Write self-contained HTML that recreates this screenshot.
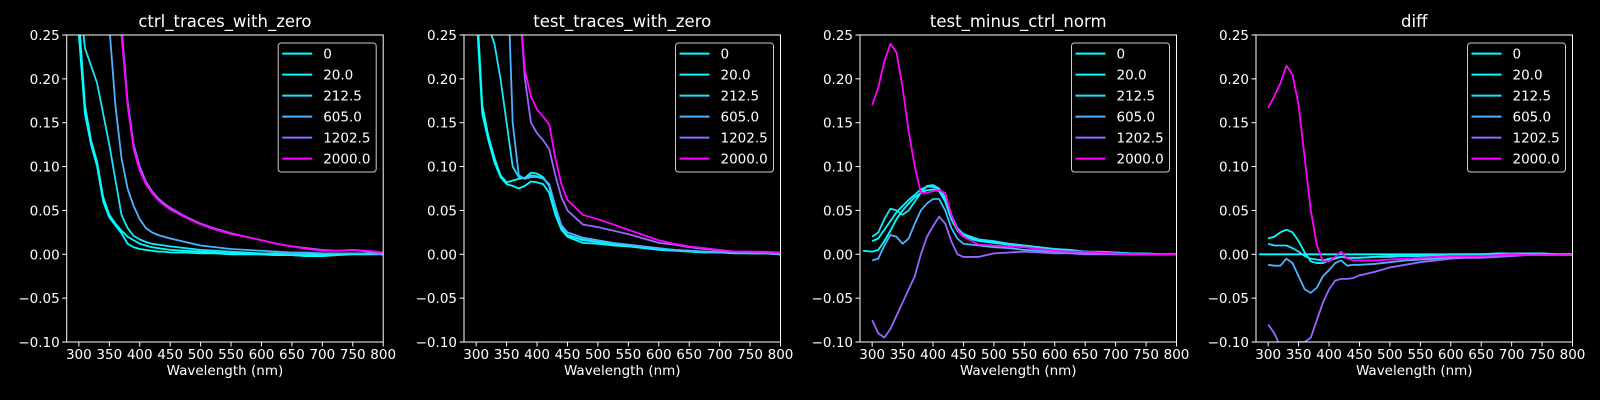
<!DOCTYPE html>
<html><head><meta charset="utf-8"><style>
html,body{margin:0;padding:0;background:#000;}
svg{display:block;font-family:"DejaVu Sans","Liberation Sans",sans-serif;}
</style></head><body>
<svg id="fig" width="1600" height="400" viewBox="0 0 1600 400" xmlns="http://www.w3.org/2000/svg">
<rect width="1600" height="400" fill="#000"/>
</svg>
<script>
const wavelengths=[285,300,310,320,330,340,350,360,370,380,390,400,410,420,430,440,450,475,500,525,550,575,600,625,650,675,700,725,750,775,800];
const seriesLabels=["0","20.0","212.5","605.0","1202.5","2000.0"];
const seriesColors=["#00ffff","#02fdff","#1be4ff","#4db2ff","#9966ff","#ff00ff"];
const panelTitles=["ctrl_traces_with_zero","test_traces_with_zero","test_minus_ctrl_norm","diff"];
const yTicks=[-0.10,-0.05,0.00,0.05,0.10,0.15,0.20,0.25];
const xTicks=[300,350,400,450,500,550,600,650,700,750,800];

const ctrl0=[null,0.25,0.16,0.125,0.1,0.06,0.042,0.033,0.024,0.012,0.008,0.006,0.005,0.004,0.003,0.003,0.002,0.002,0.001,0.001,0.0,0.0,0.0,-0.001,-0.001,-0.002,-0.002,-0.001,0.0,0.0,0.0];
const ctrl1=[null,0.27,0.17,0.13,0.105,0.065,0.045,0.035,0.027,0.02,0.016,0.012,0.01,0.008,0.007,0.006,0.005,0.004,0.003,0.002,0.001,0.001,0.0,-0.001,-0.001,-0.002,-0.001,0.0,0.001,0.001,0.0];
const ctrl2=[null,0.3,0.235,0.215,0.195,0.16,0.125,0.085,0.045,0.03,0.021,0.017,0.014,0.012,0.011,0.01,0.009,0.007,0.005,0.004,0.003,0.002,0.001,0.001,0.0,0.0,0.0,0.0,0.001,0.001,0.0];
const ctrl3=[null,0.5,0.5,0.5,0.5,0.4,0.26,0.17,0.11,0.075,0.055,0.04,0.03,0.025,0.022,0.02,0.018,0.014,0.01,0.008,0.006,0.005,0.004,0.003,0.002,0.002,0.001,0.001,0.001,0.001,0.0];
const ctrl4=[null,0.5,0.5,0.5,0.5,0.5,0.5,0.45,0.26,0.175,0.125,0.1,0.083,0.072,0.064,0.058,0.053,0.043,0.035,0.029,0.024,0.02,0.016,0.012,0.009,0.007,0.005,0.004,0.005,0.003,0.001];
const ctrl5=[null,0.5,0.5,0.5,0.5,0.5,0.5,0.45,0.25,0.17,0.12,0.095,0.08,0.07,0.062,0.056,0.051,0.042,0.034,0.028,0.023,0.02,0.016,0.012,0.009,0.006,0.004,0.004,0.005,0.004,0.002];

const test0=[null,0.28,0.16,0.13,0.105,0.088,0.08,0.078,0.075,0.078,0.083,0.082,0.08,0.07,0.045,0.028,0.02,0.013,0.012,0.01,0.009,0.007,0.005,0.004,0.003,0.002,0.002,0.001,0.001,0.001,0.0];
const test1=[null,0.3,0.17,0.135,0.11,0.09,0.082,0.084,0.086,0.087,0.093,0.092,0.088,0.078,0.05,0.03,0.022,0.016,0.014,0.012,0.01,0.008,0.006,0.005,0.004,0.003,0.002,0.002,0.001,0.001,0.0];
const test2=[null,0.4,0.4,0.26,0.24,0.2,0.15,0.1,0.088,0.087,0.09,0.089,0.087,0.078,0.05,0.03,0.022,0.017,0.014,0.012,0.01,0.008,0.006,0.005,0.004,0.003,0.002,0.002,0.001,0.001,0.0];
const test3=[null,0.5,0.5,0.5,0.5,0.5,0.35,0.15,0.09,0.086,0.088,0.088,0.086,0.08,0.055,0.033,0.025,0.019,0.016,0.013,0.011,0.009,0.007,0.005,0.004,0.003,0.002,0.002,0.001,0.001,0.0];
const test4=[null,0.5,0.5,0.5,0.5,0.5,0.5,0.42,0.3,0.2,0.15,0.138,0.13,0.12,0.09,0.065,0.05,0.034,0.031,0.027,0.023,0.018,0.013,0.011,0.008,0.006,0.004,0.003,0.003,0.002,0.001];
const test5=[null,0.5,0.5,0.5,0.5,0.5,0.5,0.5,0.3,0.21,0.18,0.165,0.157,0.148,0.11,0.08,0.062,0.045,0.04,0.034,0.028,0.022,0.016,0.012,0.009,0.007,0.005,0.003,0.003,0.003,0.002];

const norm0=[0.004,0.003,0.005,0.015,0.027,0.04,0.05,0.058,0.065,0.07,0.073,0.074,0.072,0.06,0.04,0.027,0.02,0.015,0.013,0.011,0.009,0.007,0.005,0.004,0.003,0.002,0.001,0.001,0.0,0.0,0.0];
const norm1=[null,0.015,0.018,0.028,0.038,0.048,0.055,0.062,0.068,0.074,0.077,0.077,0.074,0.063,0.042,0.028,0.022,0.016,0.014,0.012,0.01,0.008,0.006,0.005,0.003,0.002,0.002,0.001,0.001,0.0,0.0];
const norm2=[null,0.02,0.025,0.04,0.052,0.05,0.045,0.05,0.06,0.07,0.078,0.079,0.075,0.065,0.045,0.03,0.023,0.017,0.015,0.012,0.01,0.008,0.006,0.005,0.003,0.003,0.002,0.001,0.001,0.0,0.0];
const norm3=[null,-0.007,-0.005,0.01,0.022,0.02,0.012,0.018,0.035,0.05,0.058,0.063,0.063,0.05,0.03,0.018,0.012,0.01,0.008,0.007,0.005,0.004,0.003,0.002,0.002,0.001,0.001,0.0,0.0,0.0,0.0];
const norm4=[null,-0.075,-0.09,-0.095,-0.085,-0.07,-0.055,-0.04,-0.025,0.0,0.02,0.032,0.043,0.035,0.015,0.0,-0.003,-0.003,0.001,0.002,0.003,0.002,0.001,0.001,0.0,0.0,0.0,0.0,0.0,0.0,0.0];
const norm5=[null,0.17,0.19,0.22,0.24,0.23,0.19,0.14,0.1,0.07,0.07,0.072,0.073,0.07,0.045,0.028,0.02,0.011,0.01,0.009,0.008,0.006,0.004,0.003,0.003,0.002,0.001,0.0,0.0,0.0,0.0];

const diff0=[0,0,0,0,0,0,0,0,0,0,0,0,0,0,0,0,0,0,0,0,0,0,0,0,0,0,0,0,0,0,0];
const diff1=[null,0.018,0.02,0.025,0.028,0.025,0.015,0.002,-0.008,-0.01,-0.01,-0.007,-0.005,-0.003,-0.004,-0.004,-0.004,-0.003,-0.002,-0.002,-0.001,-0.001,0.0,0.0,0.0,0.001,0.001,0.001,0.001,0.0,0.0];
const diff2=[null,0.012,0.01,0.01,0.01,0.007,0.003,-0.002,-0.005,-0.006,-0.007,-0.005,-0.004,-0.003,-0.004,-0.004,-0.004,-0.003,-0.003,-0.002,-0.002,-0.001,-0.001,0.0,0.0,0.0,0.001,0.001,0.001,0.0,0.0];
const diff3=[null,-0.012,-0.013,-0.013,-0.005,-0.01,-0.025,-0.04,-0.044,-0.038,-0.025,-0.018,-0.01,-0.007,-0.013,-0.012,-0.012,-0.011,-0.009,-0.007,-0.006,-0.005,-0.004,-0.003,-0.002,-0.002,-0.001,-0.001,0.0,0.0,0.0];
const diff4=[null,-0.08,-0.09,-0.105,-0.11,-0.105,-0.1,-0.1,-0.095,-0.075,-0.055,-0.04,-0.03,-0.028,-0.028,-0.027,-0.024,-0.02,-0.015,-0.012,-0.009,-0.007,-0.005,-0.004,-0.004,-0.003,-0.002,-0.001,-0.001,-0.001,-0.001];
const diff5=[null,0.167,0.18,0.195,0.215,0.205,0.17,0.11,0.05,0.01,-0.008,-0.008,-0.003,0.003,-0.005,-0.007,-0.007,-0.007,-0.006,-0.005,-0.004,-0.003,-0.002,-0.002,-0.002,-0.001,0.0,-0.001,-0.001,-0.001,-0.001];

const panelSeries=[[ctrl0,ctrl1,ctrl2,ctrl3,ctrl4,ctrl5],[test0,test1,test2,test3,test4,test5],[norm0,norm1,norm2,norm3,norm4,norm5],[diff0,diff1,diff2,diff3,diff4,diff5]];

const NS="http://www.w3.org/2000/svg";
const svg=document.getElementById('fig');
function mk(tag,attrs,parent){const e=document.createElementNS(NS,tag);for(const k in attrs)e.setAttribute(k,attrs[k]);(parent||svg).appendChild(e);return e;}
const lefts=[66.7,464,860,1256];
const W=316.5,TOP=35,BOT=342;
const XMIN=280,XMAX=800,YMIN=-0.10,YMAX=0.25;

lefts.forEach((L,p)=>{
  const xs=v=>L+(v-XMIN)/(XMAX-XMIN)*W;
  const ys=v=>BOT-(v-YMIN)/(YMAX-YMIN)*(BOT-TOP);
  const g=mk('g',{});
  
  
  const cp=mk('clipPath',{id:'clip'+p},g);
  mk('rect',{x:L,y:TOP,width:W,height:BOT-TOP},cp);
  const t=mk('text',{x:L+W/2,y:27,'text-anchor':'middle',fill:'#fff','font-size':'16.5'},g);
  t.textContent=panelTitles[p];
  
  
  const lg=mk('g',{'clip-path':'url(#clip'+p+')'},g);
  panelSeries[p].forEach((arr,s)=>{
    let d='';let pen=false;
    arr.forEach((v,i)=>{
      if(v===null){pen=false;return;}
      d+=(pen?'L':'M')+xs(wavelengths[i]).toFixed(2)+','+ys(v).toFixed(2);pen=true;
    });
    const path=mk('path',{d:d,fill:'none',stroke:seriesColors[s],'stroke-width':'1.8','stroke-linejoin':'round'},lg);
    
    
  });
  mk('rect',{x:L,y:TOP,width:W,height:BOT-TOP,fill:'none',stroke:'#fff','stroke-width':'1'},g);
  xTicks.forEach(v=>{
    const x=xs(v);
    mk('line',{x1:x,x2:x,y1:BOT,y2:BOT+4.5,stroke:'#fff','stroke-width':'1'},g);
    const tx=mk('text',{x:x,y:BOT+17,'text-anchor':'middle',fill:'#fff','font-size':'13.5'},g);
    tx.textContent=v;
    
    
  });
  yTicks.forEach(v=>{
    const y=ys(v);
    mk('line',{x1:L-4.5,x2:L,y1:y,y2:y,stroke:'#fff','stroke-width':'1'},g);
    const ty=mk('text',{x:L-7,y:y+5,'text-anchor':'end',fill:'#fff','font-size':'13.5'},g);
    ty.textContent=(v<0?'\u2212':'')+Math.abs(v).toFixed(2);
    
    
  });
  const xl=mk('text',{x:L+W/2,y:375,'text-anchor':'middle',fill:'#fff','font-size':'13.5'},g);
  xl.textContent='Wavelength (nm)';
  
  
  const bx=L+W-105,by=TOP+8;
  const leg=mk('g',{},g);
  
  
  mk('rect',{x:bx,y:by,width:98,height:129,rx:3,fill:'#000',stroke:'#ccc','stroke-width':'1'},leg);
  seriesLabels.forEach((lab,s)=>{
    const yy=by+10.6+21*s;
    const ln=mk('line',{x1:bx+4,x2:bx+34,y1:yy,y2:yy,stroke:seriesColors[s],'stroke-width':'2'},leg);
    
    
    const lt=mk('text',{x:bx+45,y:yy+5,fill:'#fff','font-size':'13.5'},leg);
    lt.textContent=lab;
    
    
  });
});
</script>
</body></html>
